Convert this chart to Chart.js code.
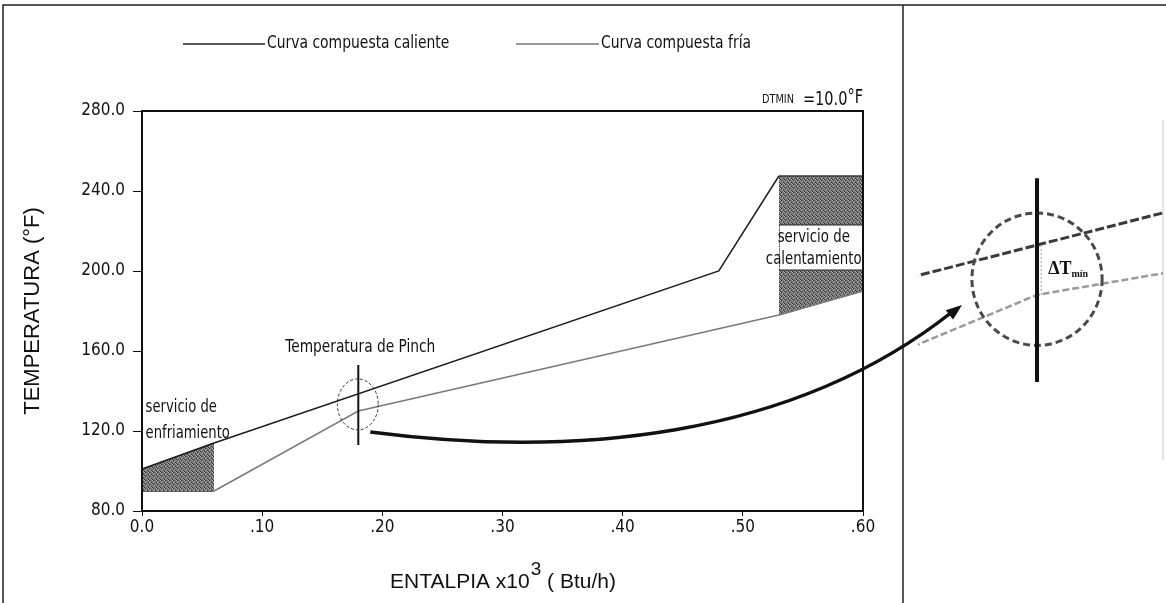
<!DOCTYPE html>
<html>
<head>
<meta charset="utf-8">
<script src="https://cdn.jsdelivr.net/npm/chart.js@4"></script>
<style>
  html, body { margin: 0; padding: 0; background: #fff; }
  #wrap { position: relative; width: 1166px; height: 603px; }
  #main { position: absolute; left: 0; top: 0; }
  #zoom { position: absolute; left: 918px; top: 170px; }
</style>
</head>
<body>
<div id="wrap">
  <canvas id="main" width="1166" height="603"></canvas>
  <canvas id="zoom" width="245" height="230"></canvas>
</div>
<script>
// Curvas compuestas (entalpia x10^3 Btu/h, temperatura °F)
const hotEnthalpy = [0.00, 0.06, 0.48, 0.53];
const hotTemp = [101, 114, 200, 247.5];
const coldEnthalpy = [0.06, 0.18, 0.53, 0.60];
const coldTemp = [90, 130, 178, 190];

// servicios (zonas sombreadas)
const coolingEnthalpy = [0.00, 0.06];
const coolingTop = [101, 114];
const coolingBase = [90, 90];
const heatingEnthalpy = [0.53, 0.60];
const heatingTop = [247.5, 247.5];
const heatingBase = [178, 190];

const pinchEnthalpy = 0.18;
const dtMin = 10.0;

const yTicks = [80, 120, 160, 200, 240, 280];
const yTickLabels = ['80.0', '120.0', '160.0', '200.0', '240.0', '280.0'];
const xTicks = [0, 0.1, 0.2, 0.3, 0.4, 0.5, 0.6];
const xTickLabels = ['0.0', '.10', '.20', '.30', '.40', '.50', '.60'];

const NARROW = "'Liberation Sans Narrow', 'Arial Narrow', 'DejaVu Sans Condensed', sans-serif";
const ARIAL = '"Liberation Sans", Arial, sans-serif';
const toXY = (xs, ys) => xs.map((x, i) => ({ x: x, y: ys[i] }));

// texto comprimido horizontalmente, devuelve el ancho dibujado
function narrowText(c, text, x, y, sx) {
  c.save();
  c.translate(x, y);
  c.scale(sx, 1);
  c.fillText(text, 0, 0);
  c.restore();
  return c.measureText(text).width * sx;
}

// sombreado punteado
function makePattern(ctx) {
  const p = document.createElement('canvas');
  p.width = 4; p.height = 4;
  const g = p.getContext('2d');
  g.fillStyle = '#707070'; g.fillRect(0, 0, 4, 4);
  g.fillStyle = '#aaaaaa';
  [[0, 0], [2, 1], [1, 2], [3, 3]].forEach(([a, b]) => g.fillRect(a, b, 1, 1));
  g.fillStyle = '#3a3a3a';
  [[1, 0], [3, 2], [0, 3]].forEach(([a, b]) => g.fillRect(a, b, 1, 1));
  return ctx.createPattern(p, 'repeat');
}

const mainCtx = document.getElementById('main').getContext('2d');
const shade = makePattern(mainCtx);

const decor = {
  id: 'decor',
  afterDraw(chart) {
    const c = chart.ctx, a = chart.chartArea;
    const X = v => chart.scales.x.getPixelForValue(v);
    const Y = v => chart.scales.y.getPixelForValue(v);
    c.save();

    // marco de la figura
    c.strokeStyle = '#222'; c.lineWidth = 1.5;
    c.beginPath();
    c.moveTo(3, 603); c.lineTo(3, 5); c.lineTo(1166, 5);
    c.moveTo(903, 5); c.lineTo(903, 603);
    c.stroke();
    c.strokeStyle = '#c8c8c8'; c.lineWidth = 1;
    c.beginPath(); c.moveTo(1163, 120); c.lineTo(1163, 460); c.stroke();

    // caja del grafico
    c.strokeStyle = '#111'; c.lineWidth = 2;
    c.strokeRect(a.left, a.top, a.right - a.left, a.bottom - a.top);

    // leyenda
    c.font = '17px ' + NARROW;
    c.textBaseline = 'middle'; c.textAlign = 'left';
    c.fillStyle = '#111';
    const legY = 44;
    c.lineWidth = 1.5;
    c.strokeStyle = '#222';
    c.beginPath(); c.moveTo(183, legY); c.lineTo(265, legY); c.stroke();
    narrowText(c, 'Curva compuesta caliente', 267, legY, 0.91);
    c.strokeStyle = '#777';
    c.beginPath(); c.moveTo(516, legY); c.lineTo(599, legY); c.stroke();
    narrowText(c, 'Curva compuesta fría', 601, legY, 0.91);

    // DTMIN
    c.textAlign = 'left';
    c.font = '12px ' + NARROW;
    let dx = 762;
    dx += narrowText(c, 'DTMIN', dx, 100, 0.9) + 9;
    c.font = '19px ' + NARROW;
    dx += narrowText(c, '=' + dtMin.toFixed(1), dx, 100, 0.85);
    narrowText(c, '°F', dx, 98, 0.85);

    // etiqueta servicio de enfriamiento
    c.font = '17px ' + NARROW;
    narrowText(c, 'servicio de', X(0.003), Y(131.5), 0.86);
    narrowText(c, 'enfriamiento', X(0.003), Y(118.5), 0.86);

    // etiqueta servicio de calentamiento (con fondo blanco)
    c.fillStyle = '#fff';
    c.fillRect(X(0.53) + 1, Y(223), X(0.60) - X(0.53) - 2, Y(200.5) - Y(223));
    c.strokeStyle = '#222'; c.lineWidth = 1;
    c.beginPath();
    c.moveTo(X(0.53), Y(223)); c.lineTo(X(0.60), Y(223));
    c.moveTo(X(0.53), Y(200.5)); c.lineTo(X(0.60), Y(200.5));
    c.stroke();
    c.fillStyle = '#111';
    c.textAlign = 'center';
    narrowText(c, 'servicio de', X(0.559), Y(216.5), 0.87);
    narrowText(c, 'calentamiento', X(0.559), Y(205.5), 0.87);

    // punto pinch
    c.strokeStyle = '#111'; c.lineWidth = 2;
    c.beginPath(); c.moveTo(X(pinchEnthalpy), Y(153)); c.lineTo(X(pinchEnthalpy), Y(113)); c.stroke();
    c.strokeStyle = '#333'; c.lineWidth = 1; c.setLineDash([3, 2]);
    c.beginPath();
    c.ellipse(X(0.1796), Y(133.3), X(0.017) - X(0), Y(0) - Y(12.75), 0, 0, Math.PI * 2);
    c.stroke();
    c.setLineDash([]);
    c.fillStyle = '#111';
    narrowText(c, 'Temperatura de Pinch', X(0.1817), Y(161.5), 0.9);

    // flecha curva hacia el detalle
    const p0 = { x: X(0.19), y: Y(119.5) };
    const p1 = { x: 570, y: 458 }, p2 = { x: 790, y: 440 }, p3 = { x: 962, y: 305 };
    c.strokeStyle = '#111'; c.lineWidth = 3.5;
    c.beginPath(); c.moveTo(p0.x, p0.y);
    c.bezierCurveTo(p1.x, p1.y, p2.x, p2.y, p3.x - 10, p3.y + 7);
    c.stroke();
    const ang = Math.atan2(p3.y - p2.y, p3.x - p2.x);
    c.fillStyle = '#111';
    c.beginPath();
    c.moveTo(p3.x, p3.y);
    c.lineTo(p3.x - 16 * Math.cos(ang) + 6 * Math.sin(ang), p3.y - 16 * Math.sin(ang) - 6 * Math.cos(ang));
    c.lineTo(p3.x - 16 * Math.cos(ang) - 6 * Math.sin(ang), p3.y - 16 * Math.sin(ang) + 6 * Math.cos(ang));
    c.closePath(); c.fill();

    // titulo eje x con superindice
    c.fillStyle = '#111';
    c.textAlign = 'left';
    c.textBaseline = 'alphabetic';
    const t1 = 'ENTALPIA x10', t2 = '3', t3 = ' ( Btu/h)';
    c.font = '21px ' + ARIAL;
    const w1 = c.measureText(t1).width, w3 = c.measureText(t3).width;
    c.font = '19px ' + ARIAL;
    const w2 = c.measureText(t2).width;
    let tx = (a.left + a.right) / 2 - (w1 + w2 + w3) / 2;
    const by = 588;
    c.font = '21px ' + ARIAL;
    c.fillText(t1, tx, by); tx += w1 + 1;
    c.font = '19px ' + ARIAL;
    c.fillText(t2, tx, by - 13); tx += w2;
    c.font = '21px ' + ARIAL;
    c.fillText(t3, tx, by);

    c.restore();
  }
};

new Chart(mainCtx, {
  type: 'line',
  data: {
    datasets: [
      { label: 'Curva compuesta caliente', data: toXY(hotEnthalpy, hotTemp), borderColor: '#1e1e1e', borderWidth: 1.5, pointRadius: 0, fill: false },
      { label: 'Curva compuesta fría', data: toXY(coldEnthalpy, coldTemp), borderColor: '#7a7a7a', borderWidth: 1.5, pointRadius: 0, fill: false },
      { label: 'enfriamiento', data: toXY(coolingEnthalpy, coolingTop), borderColor: '#333', borderWidth: 1, pointRadius: 0, backgroundColor: shade, fill: 3 },
      { label: 'enfriamiento base', data: toXY(coolingEnthalpy, coolingBase), borderColor: '#333', borderWidth: 1.5, pointRadius: 0, fill: false },
      { label: 'calentamiento', data: toXY(heatingEnthalpy, heatingTop), borderColor: '#333', borderWidth: 1.5, pointRadius: 0, backgroundColor: shade, fill: 5 },
      { label: 'calentamiento base', data: toXY(heatingEnthalpy, heatingBase), borderColor: '#555', borderWidth: 1, pointRadius: 0, fill: false }
    ]
  },
  options: {
    responsive: false,
    animation: false,
    layout: { padding: { top: 111, right: 303, bottom: 0, left: 0 } },
    plugins: { legend: { display: false }, tooltip: { enabled: false } },
    scales: {
      x: {
        type: 'linear', min: 0, max: 0.6,
        afterBuildTicks: s => { s.ticks = xTicks.map(v => ({ value: v })); },
        afterFit: s => { s.height = 92; },
        ticks: { callback: (v, i) => xTickLabels[i], color: '#111', padding: 1, maxRotation: 0, font: { family: NARROW, size: 17 } },
        grid: { drawOnChartArea: false, tickLength: 5, color: '#111' },
        border: { color: '#111', width: 2 }
      },
      y: {
        type: 'linear', min: 80, max: 280,
        afterBuildTicks: s => { s.ticks = yTicks.map(v => ({ value: v })); },
        afterFit: s => { s.width = 142; },
        ticks: { callback: (v, i) => yTickLabels[i], color: '#111', padding: 8, font: { family: NARROW, size: 17 } },
        grid: { drawOnChartArea: false, tickLength: 9, color: '#111' },
        border: { color: '#111', width: 2 },
        title: { display: true, text: 'TEMPERATURA (°F)', color: '#111', padding: { top: 20, bottom: 0 }, font: { family: ARIAL, size: 22 } }
      }
    }
  },
  plugins: [decor]
});

// detalle ampliado del punto pinch
const zoomDecor = {
  id: 'zoomDecor',
  afterDraw(chart) {
    const c = chart.ctx;
    const X = v => chart.scales.x.getPixelForValue(v);
    const Y = v => chart.scales.y.getPixelForValue(v);
    c.save();
    // circulo
    c.strokeStyle = '#4a4a4a'; c.lineWidth = 3; c.setLineDash([7, 4]);
    c.beginPath();
    c.ellipse(X(pinchEnthalpy), Y(132.7), X(0.194) - X(0.18), Y(0) - Y(11.4), 0, 0, Math.PI * 2);
    c.stroke();
    // diferencia minima
    c.setLineDash([2, 2]); c.lineWidth = 1; c.strokeStyle = '#999';
    c.beginPath();
    c.moveTo(X(0.1802), Y(138.6)); c.lineTo(X(0.1802), Y(130));
    c.moveTo(X(0.1809), Y(138.6)); c.lineTo(X(0.1809), Y(130));
    c.stroke();
    c.setLineDash([]);
    // linea vertical
    c.strokeStyle = '#111'; c.lineWidth = 4;
    c.beginPath(); c.moveTo(X(pinchEnthalpy), Y(150.1)); c.lineTo(X(pinchEnthalpy), Y(115)); c.stroke();
    // etiqueta
    c.fillStyle = '#111'; c.textBaseline = 'middle'; c.textAlign = 'left';
    c.font = 'bold 18px "Liberation Serif", serif';
    const tx = X(0.1824), ty = Y(134.4);
    c.fillText('ΔT', tx, ty);
    const w = c.measureText('ΔT').width;
    c.font = 'bold 10px "Liberation Serif", serif';
    c.fillText('mín', tx + w, ty + 5);
    c.restore();
  }
};

new Chart(document.getElementById('zoom').getContext('2d'), {
  type: 'line',
  data: {
    datasets: [
      { data: toXY(hotEnthalpy, hotTemp), borderColor: '#3a3a3a', borderWidth: 3, borderDash: [9, 3], pointRadius: 0, fill: false },
      { data: toXY(coldEnthalpy, coldTemp), borderColor: '#9a9a9a', borderWidth: 2.5, borderDash: [7, 3], pointRadius: 0, fill: false }
    ]
  },
  options: {
    responsive: false,
    animation: false,
    layout: { padding: 0 },
    plugins: { legend: { display: false }, tooltip: { enabled: false } },
    scales: {
      x: { type: 'linear', display: false, min: 0.1544, max: 0.2071 },
      y: { type: 'linear', display: false, min: 111.9, max: 151.5 }
    }
  },
  plugins: [zoomDecor]
});
</script>
</body>
</html>
